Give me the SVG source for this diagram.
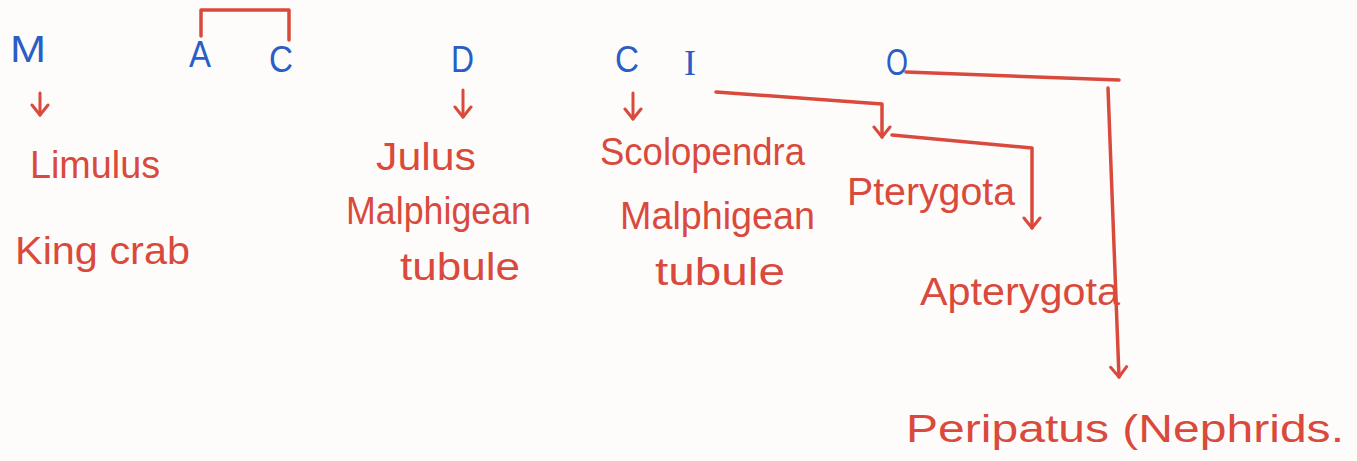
<svg xmlns="http://www.w3.org/2000/svg" width="1357" height="461" viewBox="0 0 1357 461">
<defs>
<marker id="v" viewBox="0 0 20 20" refX="18" refY="10" markerWidth="20" markerHeight="20" markerUnits="userSpaceOnUse" orient="auto">
<polyline points="8,2 18,10 8,18" fill="none" stroke="#d94a3c" stroke-width="3" stroke-linecap="round" stroke-linejoin="round"/>
</marker>
<style>
.b{font-family:"Liberation Sans",sans-serif;fill:#2b5ec4;font-size:36px}
.r{font-family:"Liberation Sans",sans-serif;fill:#d94a3c;font-size:38px}
.ln{fill:none;stroke:#d94a3c;stroke-width:3.5;stroke-linecap:round;stroke-linejoin:round}
.ar{fill:none;stroke:#d94a3c;stroke-width:3;stroke-linecap:round;stroke-linejoin:round}
</style>
</defs>
<rect width="1357" height="461" fill="#fdfcfb"/>
<g id="connectors">
<path class="ln" d="M201,36 V10 H289 V40"/>
<path class="ar" d="M40,93 V115" marker-end="url(#v)"/>
<path class="ar" d="M463,90 V117" marker-end="url(#v)"/>
<path class="ar" d="M633,93 V119" marker-end="url(#v)"/>
<path class="ln" d="M716,92 L882,104 V137" marker-end="url(#v)"/>
<path class="ln" d="M892,135 L1032,148 V228" marker-end="url(#v)"/>
<path class="ln" d="M906,72 L1119,80"/>
<path class="ln" d="M1108,88 L1119,377" marker-end="url(#v)"/>
</g>
<g id="M"><text class="b" x="10" y="62" textLength="36" lengthAdjust="spacingAndGlyphs">M</text></g>
<g id="A"><text class="b" x="189" y="67" textLength="22" lengthAdjust="spacingAndGlyphs">A</text></g>
<g id="C1"><text class="b" x="269" y="72" textLength="24" lengthAdjust="spacingAndGlyphs">C</text></g>
<g id="D"><text class="b" x="451" y="72" textLength="23" lengthAdjust="spacingAndGlyphs">D</text></g>
<g id="C2"><text class="b" x="615" y="72" textLength="24" lengthAdjust="spacingAndGlyphs">C</text></g>
<g id="I"><text class="b" x="684" y="75" style="font-family:'Liberation Serif',serif">I</text></g>
<g id="O"><text class="b" x="886" y="75" textLength="22" lengthAdjust="spacingAndGlyphs">O</text></g>
<g id="limulus"><text class="r" x="30" y="178" textLength="130" lengthAdjust="spacingAndGlyphs">Limulus</text></g>
<g id="kingcrab"><text class="r" x="15" y="264" textLength="175" lengthAdjust="spacingAndGlyphs">King crab</text></g>
<g id="julus">
<text class="r" x="376" y="170" textLength="100" lengthAdjust="spacingAndGlyphs">Julus</text>
<text class="r" x="346" y="224" textLength="185" lengthAdjust="spacingAndGlyphs">Malphigean</text>
<text class="r" x="400" y="280" textLength="120" lengthAdjust="spacingAndGlyphs">tubule</text>
</g>
<g id="scolopendra">
<text class="r" x="600" y="165" textLength="205" lengthAdjust="spacingAndGlyphs">Scolopendra</text>
<text class="r" x="620" y="229" textLength="195" lengthAdjust="spacingAndGlyphs">Malphigean</text>
<text class="r" x="655" y="285" textLength="130" lengthAdjust="spacingAndGlyphs">tubule</text>
</g>
<g id="pterygota"><text class="r" x="847" y="205" textLength="168" lengthAdjust="spacingAndGlyphs">Pterygota</text></g>
<g id="apterygota"><text class="r" x="920" y="305" textLength="200" lengthAdjust="spacingAndGlyphs">Apterygota</text></g>
<g id="peripatus"><text class="r" x="906" y="442" textLength="438" lengthAdjust="spacingAndGlyphs">Peripatus (Nephrids.</text></g>
</svg>
